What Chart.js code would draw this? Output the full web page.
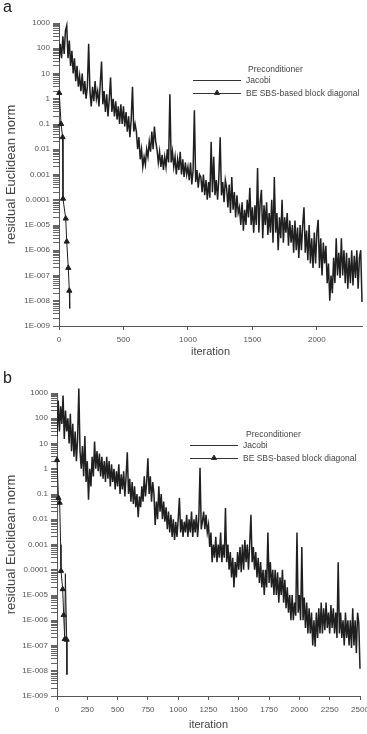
<!DOCTYPE html>
<html><head><meta charset="utf-8">
<script src="https://cdn.jsdelivr.net/npm/chart.js@4.4.0/dist/chart.umd.min.js"></script>
<style>
html,body{margin:0;padding:0;background:#fff;}
canvas{display:block;}
</style></head><body>
<canvas id="ca" width="367" height="360"></canvas>
<canvas id="cb" width="367" height="374"></canvas>
<script>
// ---------- DATA ----------
const PANEL_LABELS = ['a', 'b'];
const LEGEND_TITLE = 'Preconditioner';
const SERIES_NAMES = ['Jacobi', 'BE SBS-based block diagonal'];
const X_TITLE = 'iteration';
const Y_TITLE = 'residual Euclidean norm';
const X_TICKS_A = [0, 500, 1000, 1500, 2000];
const X_TICKS_B = [0, 250, 500, 750, 1000, 1250, 1500, 1750, 2000, 2250, 2500];
const Y_TICK_VALUES = [1e-9, 1e-8, 1e-7, 1e-6, 1e-5, 1e-4, 1e-3, 1e-2, 1e-1, 1, 10, 100, 1000];
const Y_TICK_LABELS = ['1E-009', '1E-008', '1E-007', '1E-006', '1E-005', '0.0001', '0.001', '0.01', '0.1', '1', '10', '100', '1000'];

// Jacobi residuals, panel a: one value every 10 iterations (0..2350)
const JACOBI_A_STEP = 10;
const JACOBI_A = [
  30, 150, 40, 300, 60, 500, 800, 40, 200, 20,
  80, 10, 40, 5, 20, 3, 8, 2, 10, 1.5,
  5, 1, 3, 150, 2, 0.5, 3, 0.8, 5, 1,
  2, 0.5, 4, 30, 0.6, 2, 0.3, 1.5, 0.2, 1,
  7, 0.3, 1, 0.2, 0.8, 0.15, 0.5, 0.1, 0.6, 0.1,
  0.5, 0.08, 0.3, 0.05, 0.2, 0.03, 0.15, 3, 0.05, 0.1,
  0.05, 0.01, 0.03, 0.004, 0.01, 0.002, 0.005, 0.0025, 0.01, 0.005,
  0.02, 0.008, 0.05, 0.01, 0.08, 0.02, 0.01, 0.003, 0.008, 0.002,
  0.006, 0.0015, 0.005, 0.002, 0.01, 0.003, 1.5, 0.003, 0.008, 0.002,
  5e-3, 1e-3, 4e-3, 1.5e-3, 8e-3, 1e-3, 4e-3, 8e-4, 3e-3, 1e-3,
  2e-3, 6e-4, 3e-3, 4e-4, 1.5e-3, 0.35, 5e-4, 1.5e-3, 3e-4, 1e-3,
  8e-4, 2e-4, 1e-3, 1.5e-4, 6e-4, 1e-4, 5e-4, 1.2e-4, 2e-2, 2e-4,
  5e-3, 1.5e-4, 6e-4, 1e-4, 8e-4, 3e-2, 1.5e-4, 5e-4, 8e-5, 6e-4,
  3e-4, 5e-5, 4e-4, 3e-5, 8e-4, 4e-5, 2e-4, 2e-5, 1.5e-4, 3e-5,
  5e-5, 1e-5, 8e-5, 6e-6, 4e-5, 1e-5, 1e-4, 2e-5, 3e-4, 1e-5,
  5e-5, 5e-6, 6e-5, 1e-5, 1.8e-3, 5e-6, 8e-5, 2.5e-4, 3e-6, 6e-5,
  1e-5, 8e-5, 4e-6, 3e-5, 5e-6, 1e-4, 2e-6, 8e-4, 5e-6, 3e-5,
  1e-6, 2e-5, 3e-6, 1e-4, 2e-6, 2e-5, 5e-6, 3e-5, 1.5e-6, 1.5e-5,
  2e-6, 1e-5, 8e-7, 1.5e-5, 1e-6, 8e-6, 5e-7, 1e-5, 1e-6, 1e-5,
  5e-5, 8e-7, 6e-6, 4e-7, 1e-5, 3e-7, 3e-6, 2e-7, 5e-6, 3e-7,
  5e-6, 1.6e-5, 2e-7, 3e-6, 1e-7, 2e-6, 3e-7, 1.5e-6, 5e-8, 3e-7,
  1e-8, 1e-7, 2e-8, 5e-7, 5e-8, 3e-6, 1e-7, 8e-7, 8e-8, 3e-6,
  1e-7, 1e-6, 5e-8, 8e-7, 3e-8, 5e-7, 5e-8, 1e-6, 4e-8, 6e-7,
  8e-8, 1e-6, 3e-8, 5e-7, 1e-6, 9e-9
];
const BE_A_ITER = [2, 16, 28, 31, 52, 60, 72, 80, 83];
const BE_A_RES  = [1.7, 0.1, 0.03, 1.1e-4, 1.8e-5, 2.2e-6, 2e-7, 2.5e-8, 5e-9];

// Jacobi residuals, panel b: one value every 10 iterations (0..2500)
const JACOBI_B_STEP = 10;
const JACOBI_B = [
  20, 500, 30, 300, 60, 800, 15, 200, 30, 100,
  10, 150, 5, 60, 3, 30, 2, 15, 1500, 5,
  1, 8, 0.5, 20, 0.3, 2, 0.06, 1, 0.2, 3,
  0.5, 12, 1, 5, 0.8, 4, 0.5, 3, 0.4, 2,
  0.3, 3, 0.4, 2, 0.2, 1.5, 0.3, 1, 0.15, 0.8,
  0.2, 1.5, 0.1, 0.6, 0.15, 0.8, 0.08, 0.5, 4.5, 0.1,
  0.4, 0.05, 0.3, 0.04, 0.2, 0.03, 0.1, 0.012, 0.08, 0.03,
  0.2, 0.05, 0.5, 0.08, 0.3, 2.6, 0.1, 0.5, 0.05, 0.3,
  0.1, 0.006, 0.05, 0.01, 0.2, 0.02, 0.1, 0.01, 0.05, 0.008,
  0.03, 0.004, 0.02, 0.003, 0.015, 0.002, 0.01, 0.0015, 0.008, 0.002,
  0.01, 0.07, 0.003, 0.01, 0.002, 0.008, 0.003, 0.015, 0.002, 0.01,
  0.003, 0.02, 0.002, 0.01, 0.003, 0.015, 0.002, 0.01, 1.1, 0.004,
  0.008, 0.02, 0.004, 0.015, 0.003, 0.006, 0.0008, 0.003, 0.0002, 0.001,
  3e-4, 2e-3, 2e-4, 1e-3, 3e-4, 3e-3, 2e-4, 1e-3, 3e-4, 2.8e-2,
  2e-4, 1e-3, 1e-4, 5e-4, 5e-5, 3e-4, 2e-5, 2e-4, 5e-5, 5e-4,
  1e-4, 8e-4, 8e-5, 1e-3, 1e-4, 1.5e-3, 2e-4, 1e-3, 1e-4, 1e-3,
  1.5e-2, 2e-4, 8e-4, 1e-4, 5e-4, 5e-5, 3e-4, 3e-5, 2e-4, 2e-5,
  1e-4, 1e-5, 1e-4, 2e-5, 3e-3, 3e-5, 2e-4, 2e-5, 1e-4, 1e-5,
  1e-4, 1e-5, 8e-5, 5e-6, 5e-5, 1e-5, 1e-4, 5e-6, 4e-5, 3e-6,
  2e-5, 2e-6, 1e-5, 1e-6, 1e-5, 1e-6, 5e-6, 1.5e-6, 3e-3, 2e-6,
  1e-5, 1e-6, 8e-4, 1e-6, 8e-6, 5e-7, 5e-6, 3e-7, 3e-6, 3e-7,
  2e-6, 1e-7, 1e-6, 9e-8, 2e-6, 2e-7, 3e-6, 3e-7, 5e-6, 3e-7,
  3e-6, 4e-7, 5e-6, 5e-7, 2e-6, 3e-7, 4e-6, 5e-7, 3e-6, 3e-7,
  2e-6, 2e-7, 2e-4, 3e-7, 2e-6, 2e-7, 1e-6, 1e-7, 2e-6, 2e-7,
  1e-6, 1e-7, 1e-6, 8e-8, 3e-6, 1e-7, 1e-6, 5e-8, 2e-6, 8e-7,
  1.2e-8
];
const BE_B_ITER = [0, 12, 22, 30, 33, 47, 55, 64, 69, 80, 82];
const BE_B_RES  = [2.2, 0.07, 0.045, 1e-3, 9e-5, 1.7e-5, 1.6e-6, 1.8e-7, 7e-5, 1.7e-7, 7e-9];

// ---------- RENDER ----------
const FONT = '"Liberation Sans", Arial, Helvetica, sans-serif';
const W = 367;
const Y_ALL_TICKS = [];
Y_TICK_VALUES.forEach((v, i) => {
  if (i < Y_TICK_VALUES.length - 1) { for (let k = 1; k <= 9; k++) Y_ALL_TICKS.push(k * v); }
  else Y_ALL_TICKS.push(v);
});
function yLabel(v) {
  const i = Y_TICK_VALUES.findIndex(t => Math.abs(t - v) <= t * 1e-6);
  return i >= 0 ? Y_TICK_LABELS[i] : '';
}

const overlay = {
  id: 'overlay',
  afterDraw(chart, args, o) {
    const ctx = chart.ctx;
    ctx.save();
    ctx.fillStyle = '#222';
    ctx.font = '16px ' + FONT;
    ctx.textBaseline = 'alphabetic';
    ctx.textAlign = 'left';
    ctx.fillText(o.panel, o.panelX, o.panelY);
    ctx.font = '8.5px ' + FONT;
    ctx.fillStyle = '#444';
    ctx.textBaseline = 'middle';
    ctx.fillText(LEGEND_TITLE, o.titleX, o.titleY);
    chart.data.datasets.forEach((ds, i) => {
      const y = o.rowY[i];
      ctx.strokeStyle = '#333';
      ctx.lineWidth = 1;
      ctx.beginPath(); ctx.moveTo(o.lineX0, y + 0.5); ctx.lineTo(o.lineX1, y + 0.5); ctx.stroke();
      if (ds.pointStyle === 'triangle') {
        ctx.fillStyle = '#1e1e1e';
        Chart.helpers.drawPoint(ctx, {pointStyle: 'triangle', radius: 3, rotation: 0, borderWidth: 1}, (o.lineX0 + o.lineX1) / 2, y);
      }
      ctx.fillStyle = '#444';
      ctx.fillText(ds.label, o.textX, y + 1);
    });
    ctx.restore();
  }
};

function makeChart(id, c) {
  const jac = c.jacobi.map((v, i) => ({x: i * c.step, y: v}));
  const be = c.beIter.map((x, i) => ({x: x, y: c.beRes[i]}));
  const beRadius = c.beRes.map((_, i) => c.beUnmarked.includes(i) ? 0 : 3);
  return new Chart(document.getElementById(id), {
    type: 'line',
    data: {datasets: [
      {label: SERIES_NAMES[0], data: jac, borderColor: '#1f1f1f', borderWidth: 1.5, pointRadius: 0,
       tension: 0, order: 2, borderJoinStyle: 'miter', clip: {left: 0, top: 10, right: 6, bottom: 4}},
      {label: SERIES_NAMES[1], data: be, borderColor: '#1e1e1e', backgroundColor: '#1e1e1e', borderWidth: 1,
       pointStyle: 'triangle', pointRadius: beRadius, pointBorderWidth: 1, tension: 0, order: 1, clip: 6}
    ]},
    options: {
      responsive: false, animation: false, devicePixelRatio: 1,
      layout: {padding: {top: c.top, right: W - c.right, left: 0, bottom: 0}},
      plugins: {legend: {display: false}, tooltip: {enabled: false}, overlay: c.overlay},
      scales: {
        x: {
          type: 'linear', min: 0, max: c.xmax,
          afterBuildTicks: s => { s.ticks = c.xticks.map(v => ({value: v})); },
          afterFit: s => { s.height = c.h - c.bottom; s.paddingLeft = 0; s.paddingRight = 0; },
          ticks: {font: {family: FONT, size: 8}, color: '#555', padding: 5, maxRotation: 0, autoSkip: false,
                  callback: v => String(v)},
          grid: {display: true, drawOnChartArea: false, drawTicks: true, tickLength: 4, color: '#555'},
          border: {display: true, color: '#555', width: 1},
          title: {display: true, text: X_TITLE, font: {family: FONT, size: 11}, color: '#444', padding: {top: 0, bottom: c.xTitlePad}}
        },
        y: {
          type: 'logarithmic', min: 1e-9, max: 1000,
          afterBuildTicks: s => { s.ticks = Y_ALL_TICKS.map(v => ({value: v})); },
          afterFit: s => { s.width = c.left; s.paddingTop = 0; s.paddingBottom = 0; },
          ticks: {font: {family: FONT, size: 8}, color: '#555', padding: 3, autoSkip: false, callback: v => yLabel(v)},
          grid: {display: true, drawOnChartArea: false, drawTicks: true, tickLength: 6, color: '#666'},
          border: {display: true, color: '#555', width: 1},
          title: {display: true, text: Y_TITLE, font: {family: FONT, size: 13}, color: '#444', padding: {top: 4, bottom: 0}}
        }
      }
    },
    plugins: [overlay]
  });
}

makeChart('ca', {
  jacobi: JACOBI_A, step: JACOBI_A_STEP, beIter: BE_A_ITER, beRes: BE_A_RES, beUnmarked: [BE_A_RES.length - 1],
  xmax: 2350, xticks: X_TICKS_A, h: 360, left: 59, right: 362, top: 23, bottom: 326, xTitlePad: 1,
  overlay: {panel: PANEL_LABELS[0], panelX: 3, panelY: 12, titleX: 248, titleY: 70, lineX0: 193, lineX1: 241, textX: 246, rowY: [80, 93]}
});
makeChart('cb', {
  jacobi: JACOBI_B, step: JACOBI_B_STEP, beIter: BE_B_ITER, beRes: BE_B_RES, beUnmarked: [3, 8, BE_B_RES.length - 1],
  xmax: 2500, xticks: X_TICKS_B, h: 374, left: 57, right: 360, top: 33, bottom: 336, xTitlePad: 2,
  overlay: {panel: PANEL_LABELS[1], panelX: 3, panelY: 23, titleX: 246, titleY: 75, lineX0: 190, lineX1: 238, textX: 243, rowY: [85, 98]}
});
</script></body></html>
